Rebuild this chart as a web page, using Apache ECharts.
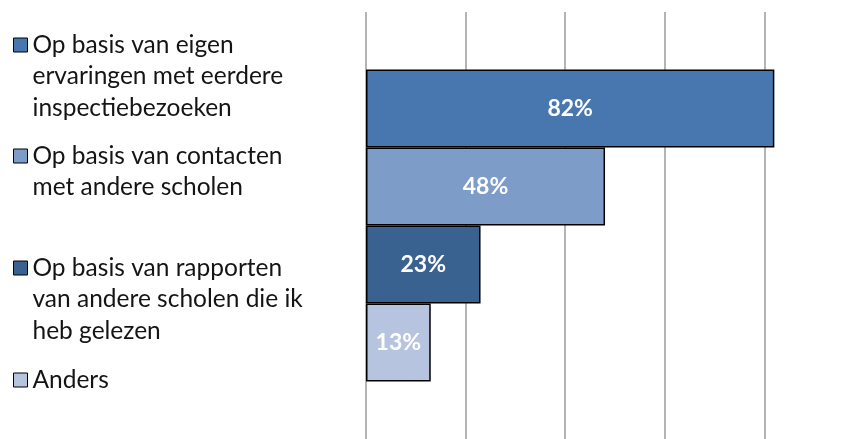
<!DOCTYPE html>
<html>
<head>
<meta charset="utf-8">
<script src="https://cdn.jsdelivr.net/npm/echarts@6/dist/echarts.min.js"></script>
<style>html,body{margin:0;padding:0;background:#fff}#chart{width:853px;height:439px}</style>
</head>
<body>
<div id="chart"></div>
<script>
const seriesNames = [
  'Op basis van eigen\nervaringen met eerdere\ninspectiebezoeken',
  'Op basis van contacten\nmet andere scholen',
  'Op basis van rapporten\nvan andere scholen die ik\nheb gelezen',
  'Anders'
];
const seriesValues = [82, 48, 23, 13];
const colors = ['#4877AF', '#7E9CC8', '#3A6291', '#B6C4DF'];
const axisTicks = [0, 20, 40, 60, 80, 100];

const LH = 31.5;
const iconCenters = [45, 156, 268, 380];
const chart = echarts.init(document.getElementById('chart'));

const legends = seriesNames.map((name, i) => {
  const n = name.split('\n').length;
  const H = (2 * n - 1) * LH;
  return {
    data: [name],
    left: 13,
    top: iconCenters[i] - H / 2,
    padding: 0,
    icon: 'rect',
    itemWidth: 14,
    itemHeight: 14,
    selectedMode: false,
    formatter: (nm) => '\n'.repeat(nm.split('\n').length - 1) + nm,
    textStyle: {
      fontFamily: 'Lato',
      fontSize: 24.5,
      color: '#141414',
      lineHeight: LH
    },
    itemStyle: { borderColor: '#000', borderWidth: 1 }
  };
});

chart.setOption({
  animation: false,
  legend: legends,
  grid: { left: 366, top: 12, bottom: 0, width: 498, outerBoundsMode: 'none', containLabel: false },
  xAxis: {
    type: 'value',
    min: axisTicks[0],
    max: axisTicks[axisTicks.length - 1],
    interval: 20,
    axisLabel: { show: false },
    axisLine: { show: false },
    axisTick: { show: false },
    splitLine: { lineStyle: { color: '#b4b4b4', width: 2 } }
  },
  yAxis: {
    type: 'category',
    data: [''],
    inverse: true,
    axisLine: { show: false },
    axisTick: { show: false },
    axisLabel: { show: false }
  },
  series: seriesNames.map((name, i) => ({
    type: 'bar',
    name: name,
    data: [seriesValues[i]],
    barWidth: 78,
    barGap: '0%',
    itemStyle: { color: colors[i], borderColor: '#000', borderWidth: 1.5 },
    label: {
      show: true,
      position: 'inside',
      formatter: '{c}%',
      color: '#fff',
      fontFamily: 'Lato',
      fontWeight: 'bold',
      fontSize: 23
    }
  }))
});
</script>
</body>
</html>
